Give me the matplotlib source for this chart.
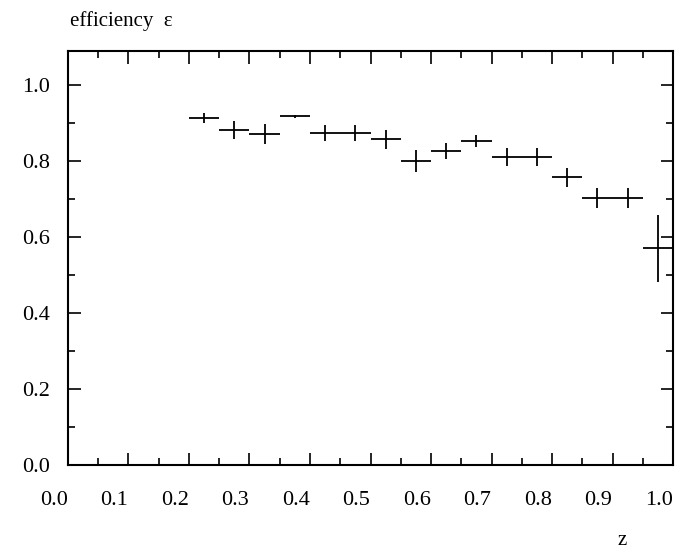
import matplotlib
matplotlib.use("Agg")
import matplotlib.pyplot as plt
import matplotlib.transforms as mtransforms
from matplotlib.ticker import MultipleLocator, FormatStrFormatter

z_centers = [0.225, 0.275, 0.325, 0.375, 0.425, 0.475, 0.525, 0.575,
             0.625, 0.675, 0.725, 0.775, 0.825, 0.875, 0.925, 0.975]
efficiency = [0.913, 0.882, 0.871, 0.918, 0.874, 0.874, 0.858, 0.800,
              0.826, 0.853, 0.810, 0.810, 0.758, 0.703, 0.703, 0.571]
eff_err = [0.013, 0.024, 0.026, 0.004, 0.022, 0.020, 0.025, 0.028,
           0.021, 0.017, 0.024, 0.024, 0.025, 0.027, 0.027, 0.088]
half_width = [0.025] * len(z_centers)

plt.rcParams['font.family'] = ['Liberation Serif', 'DejaVu Serif']

fig = plt.figure(figsize=(6.86, 5.58), dpi=100)
ax = fig.add_axes([0.0991, 0.1667, 0.882, 0.742])

ax.errorbar(z_centers, efficiency, xerr=half_width, yerr=eff_err,
            fmt='none', ecolor='black', elinewidth=1.3, capsize=0)

ax.set_xlim(0.0, 1.0)
ax.set_ylim(0.0, 1.09)
ax.xaxis.set_major_locator(MultipleLocator(0.1))
ax.xaxis.set_minor_locator(MultipleLocator(0.05))
ax.yaxis.set_major_locator(MultipleLocator(0.2))
ax.yaxis.set_minor_locator(MultipleLocator(0.1))
ax.xaxis.set_major_formatter(FormatStrFormatter('%.1f'))
ax.yaxis.set_major_formatter(FormatStrFormatter('%.1f'))

ax.tick_params(axis='both', which='both', direction='in', top=True, right=True,
               labelsize=16, width=1.2)
ax.tick_params(axis='both', which='major', length=9)
ax.tick_params(axis='both', which='minor', length=5)
ax.tick_params(axis='x', which='major', pad=19)
ax.tick_params(axis='y', which='major', pad=13)
for s in ax.spines.values():
    s.set_linewidth(1.5)

shift = mtransforms.ScaledTranslation(-14 / 100, 0, fig.dpi_scale_trans)
for lab in ax.get_xticklabels():
    lab.set_transform(lab.get_transform() + shift)

fig.text(0.102, 0.962, 'efficiency  ε', fontsize=15, ha='left', va='center')
fig.text(0.907, 0.032, 'z', fontsize=15, ha='center', va='center')

fig.savefig('out.png', dpi=100)
